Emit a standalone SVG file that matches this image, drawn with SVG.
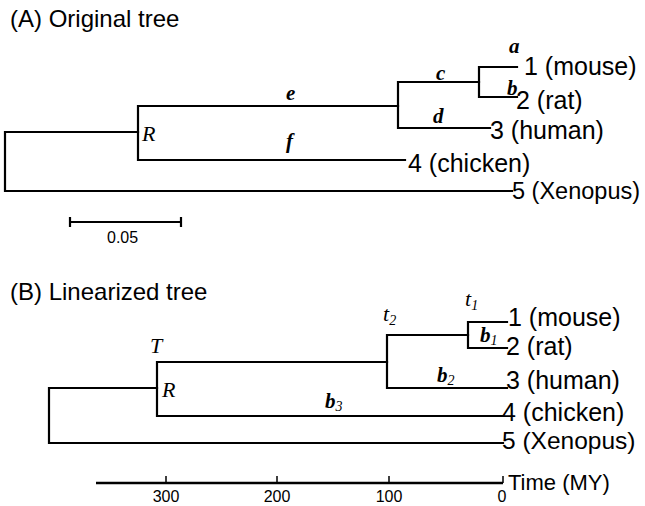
<svg xmlns="http://www.w3.org/2000/svg" width="645" height="506" viewBox="0 0 645 506">
<style>
.br{fill:none;stroke:#000;stroke-width:2.2;stroke-linecap:square}
.ax{fill:none;stroke:#000;stroke-width:2.5}
.tk{fill:none;stroke:#000;stroke-width:1.5}
.ttl{font-family:"Liberation Sans",Arial,sans-serif;font-size:24px;fill:#000}
.lf{font-family:"Liberation Sans",Arial,sans-serif;font-size:25px;fill:#000}
.sm{font-family:"Liberation Sans",Arial,sans-serif;font-size:16px;fill:#000}
.bl{font-family:"Liberation Serif","Times New Roman",serif;font-size:21px;font-style:italic;font-weight:bold;fill:#000}
.it{font-family:"Liberation Serif","Times New Roman",serif;font-size:22px;font-style:italic;fill:#000}
.sub{font-size:14px}
</style>
<rect width="645" height="506" fill="#fff"/>
<text class="ttl" x="10" y="27">(A) Original tree</text>
<text class="ttl" x="10" y="300">(B) Linearized tree</text>
<g id="connectors">
<path class="br" d="M138,132 H5 V191 H512"/>
<path class="br" d="M398,106 H138 V160 H405"/>
<path class="br" d="M479,82 H398 V128 H490"/>
<path class="br" d="M517,67 H479 V97 H517"/>
<path class="br" d="M157,388 H49 V443 H503"/>
<path class="br" d="M387,362 H157 V416 H503"/>
<path class="br" d="M468,335 H387 V388 H507"/>
<path class="br" d="M507,322 H468 V348 H507"/>
<path class="br" d="M70,222 H181 M70,218 V226 M181,218 V226"/>
</g>
<g id="branch-labels-A">
<text class="bl" x="509" y="53">a</text>
<text class="bl" x="507" y="95">b</text>
<text class="bl" x="436" y="80">c</text>
<text class="bl" x="433" y="123">d</text>
<text class="bl" x="286" y="100">e</text>
<text class="bl" x="286" y="148">f</text>
<text class="it" x="142" y="141">R</text>
</g>
<g id="leaf-mouse-A"><text class="lf" x="524" y="75">1 (mouse)</text></g>
<g id="leaf-rat-A"><text class="lf" x="516" y="109">2 (rat)</text></g>
<g id="leaf-human-A"><text class="lf" x="490" y="139">3 (human)</text></g>
<g id="leaf-chicken-A"><text class="lf" x="408" y="172">4 (chicken)</text></g>
<g id="leaf-xenopus-A"><text class="lf" x="512" y="199" style="font-size:23.5px">5 (Xenopus)</text></g>
<g id="scalebar"><text class="sm" x="107" y="243">0.05</text></g>
<g id="branch-labels-B">
<text class="it" x="150" y="353">T</text>
<text class="it" x="162" y="397">R</text>
<text class="it" x="383" y="321">t<tspan class="sub" dy="4">2</tspan></text>
<text class="it" x="465" y="306">t<tspan class="sub" dy="4">1</tspan></text>
<text class="bl" x="480" y="342">b<tspan class="sub" dy="3" style="font-weight:normal">1</tspan></text>
<text class="bl" x="437" y="382">b<tspan class="sub" dy="3" style="font-weight:normal">2</tspan></text>
<text class="bl" x="325" y="408">b<tspan class="sub" dy="3" style="font-weight:normal">3</tspan></text>
</g>
<g id="leaf-mouse-B"><text class="lf" x="508" y="326">1 (mouse)</text></g>
<g id="leaf-rat-B"><text class="lf" x="506" y="355">2 (rat)</text></g>
<g id="leaf-human-B"><text class="lf" x="506" y="389">3 (human)</text></g>
<g id="leaf-chicken-B"><text class="lf" x="502" y="421">4 (chicken)</text></g>
<g id="leaf-xenopus-B"><text class="lf" x="502" y="449" style="font-size:24.5px">5 (Xenopus)</text></g>
<g id="time-axis">
<path class="ax" d="M96,483 H503"/>
<path class="tk" d="M166,476 V483 M277,476 V483 M389,476 V483 M503,476 V483"/>
<text class="sm" x="166" y="502" text-anchor="middle">300</text>
<text class="sm" x="277" y="502" text-anchor="middle">200</text>
<text class="sm" x="389" y="502" text-anchor="middle">100</text>
<text class="sm" x="502" y="502" text-anchor="middle">0</text>
<text class="lf" x="508" y="490" style="font-size:22px">Time (MY)</text>
</g>
</svg>
